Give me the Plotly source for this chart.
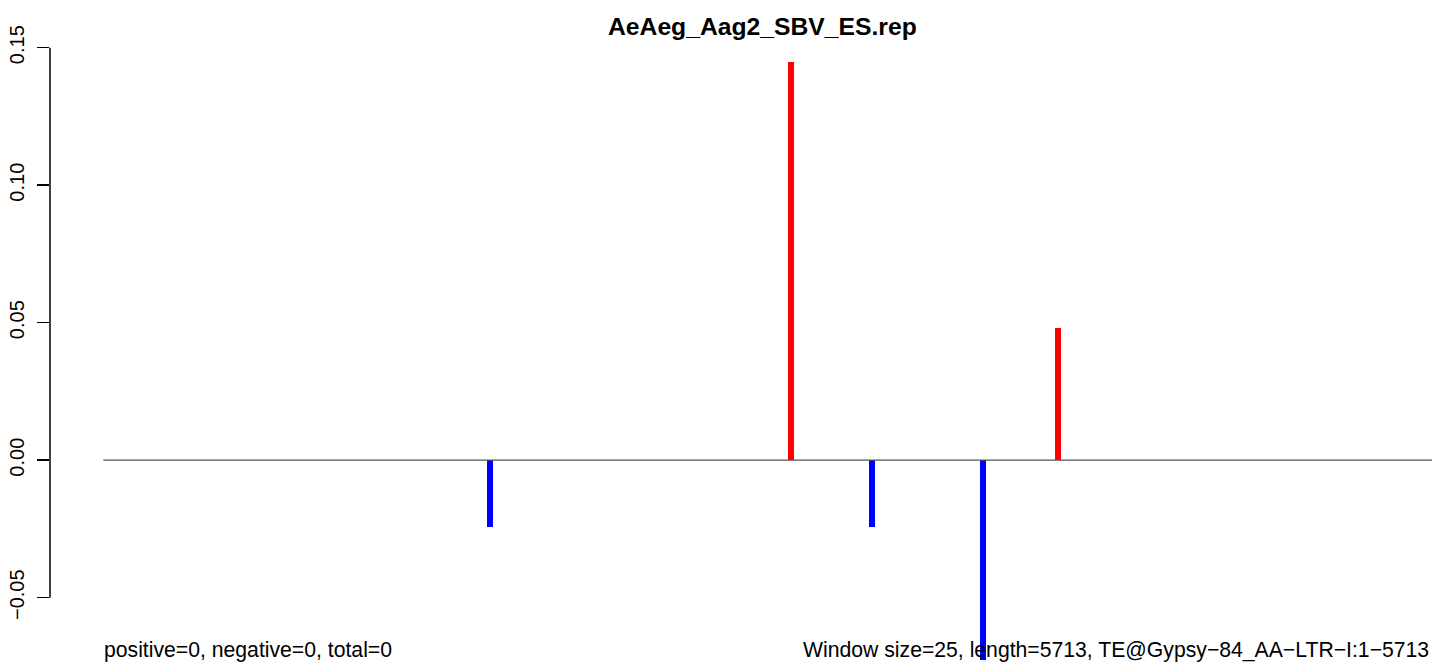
import plotly.graph_objects as go

# ---- data ----
title_text = "AeAeg_Aag2_SBV_ES.rep"
seq_length = 5713
window_size = 25

pos_x = [2956, 4105]
pos_y = [0.1447, 0.048]
neg_x = [1663, 3304, 3781]
neg_y = [-0.0242, -0.0242, -0.0727]

ytick_vals = [-0.05, 0.0, 0.05, 0.10, 0.15]
ytick_text = ["\u22120.05", "0.00", "0.05", "0.10", "0.15"]

left_note = "positive=0, negative=0, total=0"
right_note = "Window size=25, length=5713, TE@Gypsy\u221284_AA\u2212LTR\u2212I:1\u22125713"

# ---- figure geometry ----
W, H = 1433, 664
AX_X = 50                   # screen x of the y axis
L = AX_X
plot_w = W - L

fig = go.Figure()

# baseline at zero
fig.add_trace(go.Scatter(
    x=[0, seq_length], y=[0, 0], mode="lines",
    line=dict(color="#555555", width=1.3), hoverinfo="skip", showlegend=False))

fig.add_trace(go.Bar(
    x=pos_x, y=pos_y, width=window_size, marker=dict(color="#FF0000", line=dict(width=0)),
    showlegend=False))
fig.add_trace(go.Bar(
    x=neg_x, y=neg_y, width=window_size, marker=dict(color="#0000FF", line=dict(width=0)),
    showlegend=False))

font_family = "Liberation Sans, Arial, Helvetica, sans-serif"

ppu = 2750.0  # pixels per y unit
y_top = 0.15 + 47.7 / ppu
y_bot = -0.05 - (H - 597.7) / ppu

xppu = (1432 - 103.3) / seq_length
x_left = 0 - (103.3 - AX_X) / xppu
x_right = seq_length + (W - 1432) / xppu


def px(sx):
    return (sx - AX_X) / plot_w


def py(sy):
    return 1 - sy / H


fig.update_layout(
    width=W, height=H,
    margin=dict(l=L, r=0, t=0, b=0),
    paper_bgcolor="white", plot_bgcolor="white",
    font=dict(family=font_family, color="black", size=20),
    bargap=0,
    xaxis=dict(range=[x_left, x_right], visible=False, showgrid=False, zeroline=False),
    yaxis=dict(range=[y_bot, y_top], showgrid=False, zeroline=False, showline=False,
               tickmode="array", tickvals=ytick_vals, ticktext=ytick_text,
               ticks="outside", ticklen=12, tickwidth=1.5, tickcolor="black",
               tickangle=-90, tickfont=dict(size=20, family=font_family),
               ticklabelstandoff=5),
    shapes=[dict(type="line", xref="paper", yref="y", x0=0, x1=0, y0=-0.05, y1=0.15,
                 line=dict(color="black", width=1.5))],
    annotations=[
        dict(text="<b>" + title_text + "</b>", xref="paper", yref="paper",
             x=px(762.5), y=py(27), xanchor="center", yanchor="middle",
             showarrow=False, font=dict(size=24.7, family=font_family)),
        dict(text=left_note, xref="paper", yref="paper",
             x=px(102), y=py(650), xanchor="left", yanchor="middle",
             showarrow=False, font=dict(size=21.2, family=font_family)),
        dict(text=right_note, xref="paper", yref="paper",
             x=px(1431), y=py(650), xanchor="right", yanchor="middle",
             showarrow=False, font=dict(size=21.2, family=font_family)),
    ],
)

fig.write_html(
    "out.html",
    config={"displayModeBar": False, "staticPlot": True},
    post_script="document.body.style.margin='0';document.body.style.overflow='hidden';",
)
